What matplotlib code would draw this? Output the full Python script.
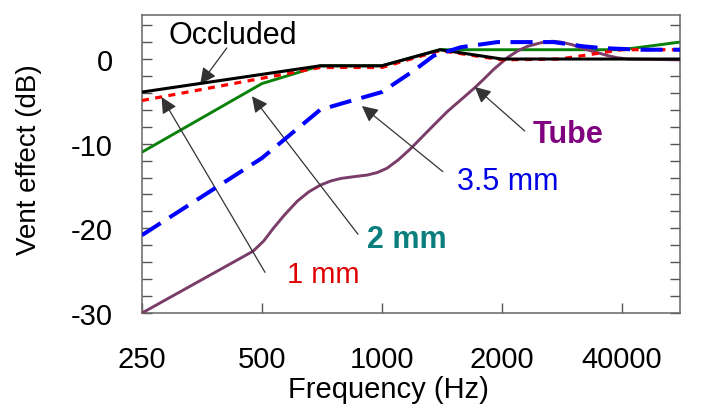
"""
Vent effect vs frequency for different vent sizes
"""

import matplotlib
matplotlib.use('Agg')
import matplotlib.pyplot as plt
from matplotlib.ticker import NullLocator

plt.rcParams['font.family'] = ['Liberation Sans', 'DejaVu Sans']
plt.rcParams['axes.unicode_minus'] = False

# values (frequency in Hz, vent effect in dB)
freq_occluded = [250, 700, 1000, 1400, 2000, 5600]
db_occluded = [-3.9, -0.8, -0.8, 1.1, 0.0, 0.0]

freq_1mm = [250, 700, 1000, 1400, 2000, 2800, 4000, 5600]
db_1mm = [-4.9, -1.0, -1.0, 1.0, -0.1, 0.0, 1.1, 1.1]

freq_2mm = [250, 500, 700, 1000, 1400, 4000, 5600]
db_2mm = [-11.0, -2.9, -0.8, -0.8, 1.1, 1.1, 2.0]

freq_35mm = [250, 500, 700, 800, 1000, 1200, 1350, 1580, 1950, 2700, 3200,
             3550, 4450, 5600]
db_35mm = [-20.8, -11.7, -6.0, -5.2, -3.9, -1.4, 0.4, 1.4, 2.0, 2.0, 1.5,
           1.3, 1.1, 1.1]

freq_tube = [250, 475, 505, 534, 570, 613, 655, 700, 745, 790, 850, 920,
             975, 1030, 1100, 1180, 1250, 1350, 1460, 1580, 1700, 1800, 1910,
             2070, 2200, 2320, 2450, 2550, 2680, 2810, 3000, 3210, 3450, 3690,
             3900, 4150, 5600]
db_tube = [-30.0, -22.7, -21.5, -20.0, -18.4, -16.8, -15.7, -14.9, -14.4,
           -14.1, -13.9, -13.7, -13.4, -12.9, -11.9, -10.6, -9.4, -7.8, -6.2,
           -4.8, -3.5, -2.4, -1.2, 0.2, 1.0, 1.5, 1.8, 2.0, 2.1, 2.0, 1.7,
           1.2, 0.8, 0.4, 0.15, 0.0, -0.1]

tick_freqs = [250, 500, 1000, 2000, 4000]
tick_labels = ['250', '500', '1000', '2000', '40000']


fig = plt.figure(figsize=(7.06, 4.10), dpi=100)
ax = fig.add_axes([142 / 706, 1 - 314 / 410, 538 / 706, 298 / 410])

ax.plot(freq_2mm, db_2mm, color='#0a820a', lw=2.1, zorder=2)
ax.plot(freq_tube, db_tube, color='#7a3c68', lw=2.1, zorder=3)
ax.plot(freq_1mm, db_1mm, color='#ff0000', lw=2.3, dashes=(2.2, 2.0),
        zorder=4)
ax.plot(freq_occluded, db_occluded, color='black', lw=2.2, zorder=5)
ax.plot(freq_35mm, db_35mm, color='#0000ff', lw=2.9, dashes=(5.5, 2.6),
        zorder=6)

ax.set_xscale('log')
ax.set_xlim(250, 5600)
ax.set_ylim(-30, 5.2)
ax.set_xticks(tick_freqs)
ax.set_xticklabels(tick_labels)
ax.xaxis.set_minor_locator(NullLocator())
ax.set_yticks([0, -10, -20, -30])
ax.set_yticks(list(range(-30, 5, 2)), minor=True)

ax.tick_params(axis='both', which='both', direction='in', length=7,
               width=1, color='#555555', labelsize=21)
ax.tick_params(axis='y', which='both', right=True, pad=21)
ax.tick_params(axis='x', pad=23)
for s in ax.spines.values():
    s.set_color('#666666')
    s.set_linewidth(1.1)

fig.text(388 / 706, 1 - 398 / 410, 'Frequency (Hz)', fontsize=21,
         ha='center', va='baseline')
fig.text(29 / 706, 1 - 160 / 410, 'Vent effect (dB)', fontsize=20,
         rotation=90, ha='center', va='center')

# labels and arrows
arrow = dict(arrowstyle='-|>', color='#333333', lw=0.9,
             mutation_scale=24, shrinkA=0, shrinkB=0)
ax.annotate('', xy=(350, -2.95), xytext=(408, 1.3), arrowprops=arrow)
ax.annotate('', xy=(280, -4.5), xytext=(509, -25.2), arrowprops=arrow)
ax.annotate('', xy=(472, -4.4), xytext=(871, -20.7), arrowprops=arrow)
ax.annotate('', xy=(891, -5.55), xytext=(1422, -13.3), arrowprops=arrow)
ax.annotate('', xy=(1711, -3.3), xytext=(2283, -8.5), arrowprops=arrow)

ax.text(291, 1.9, 'Occluded', fontsize=22, color='black', va='baseline')
ax.text(577, -26.3, '1 mm', fontsize=21, color='#e00000', va='baseline')
ax.text(917, -22.2, '2 mm', fontsize=22, color='#0a7d7d',
        fontweight='bold', va='baseline')
ax.text(1542, -15.35, '3.5 mm', fontsize=22, color='#0000e6',
        va='baseline')
ax.text(2393, -9.8, 'Tube', fontsize=22, color='#800080',
        fontweight='bold', va='baseline')

plt.savefig('out.png', dpi=100)
